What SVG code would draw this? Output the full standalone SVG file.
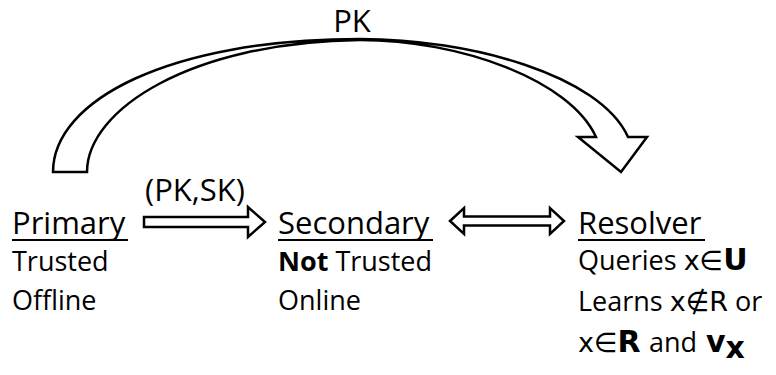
<svg xmlns="http://www.w3.org/2000/svg" width="776" height="375" viewBox="0 0 776 375">
<style>
  .h { font-family: "Open Sans", "Liberation Sans", sans-serif; font-size: 31px; fill: #000; }
  .s { font-family: "Open Sans", "Liberation Sans", sans-serif; font-size: 27px; fill: #000; }
  .m { font-family: "DejaVu Sans", "Open Sans", sans-serif; font-size: 27px; }
  .mb { font-family: "DejaVu Sans", "Open Sans", sans-serif; font-size: 30px; font-weight: bold; }
  .b { font-weight: bold; }
  .ul { stroke: #000; stroke-width: 2; }
  .arrow { fill: #fff; stroke: #000; stroke-width: 2.5; stroke-linejoin: miter; }
</style>
<rect width="776" height="375" fill="#fff"/>
<g id="connectors">
  <path class="arrow" d="M53,172 C53,100 170,39 360,39 C470,39 600,75 628,137 L647,137 L621,172 L578,137 L596,137 C570,80 460,40 360,40 C190,42 87,110 87,172 Z"/>
  <text class="h" x="352" y="32" font-size="29" text-anchor="middle">PK</text>
  <path class="arrow" d="M144,217 L248,217 L248,207 L265,222 L248,237 L248,227 L144,227 Z"/>
  <text class="h" x="195" y="201" text-anchor="middle">(PK,SK)</text>
  <path class="arrow" d="M450,221 L464,208 L464,216.5 L550,216.5 L550,208 L564,221 L550,234 L550,225.5 L464,225.5 L464,234 Z"/>
</g>
<g id="node-primary">
  <text class="h" x="12" y="234">Primary</text>
  <line class="ul" x1="12" y1="240" x2="128" y2="240"/>
  <text class="s" x="12" y="271">Trusted</text>
  <text class="s" x="12" y="310">Offline</text>
</g>
<g id="node-secondary">
  <text class="h" x="278" y="234">Secondary</text>
  <line class="ul" x1="278" y1="240" x2="433" y2="240"/>
  <text class="s" x="278" y="271"><tspan class="b">Not</tspan> Trusted</text>
  <text class="s" x="278" y="310">Online</text>
</g>
<g id="node-resolver">
  <text class="h" x="578" y="234">Resolver</text>
  <line class="ul" x1="578" y1="240" x2="705" y2="240"/>
  <text class="s" x="578" y="270">Queries <tspan class="m">x∈</tspan><tspan class="mb">U</tspan></text>
  <text class="s" x="578" y="311">Learns <tspan class="m">x∉</tspan><tspan class="m" font-size="29">R</tspan> or</text>
  <text class="s" x="578" y="352"><tspan class="m">x∈</tspan><tspan class="mb">R</tspan><tspan x="649">and</tspan><tspan class="mb" x="706">v</tspan><tspan class="mb" font-size="21" dy="6">x</tspan></text>
</g>
</svg>
